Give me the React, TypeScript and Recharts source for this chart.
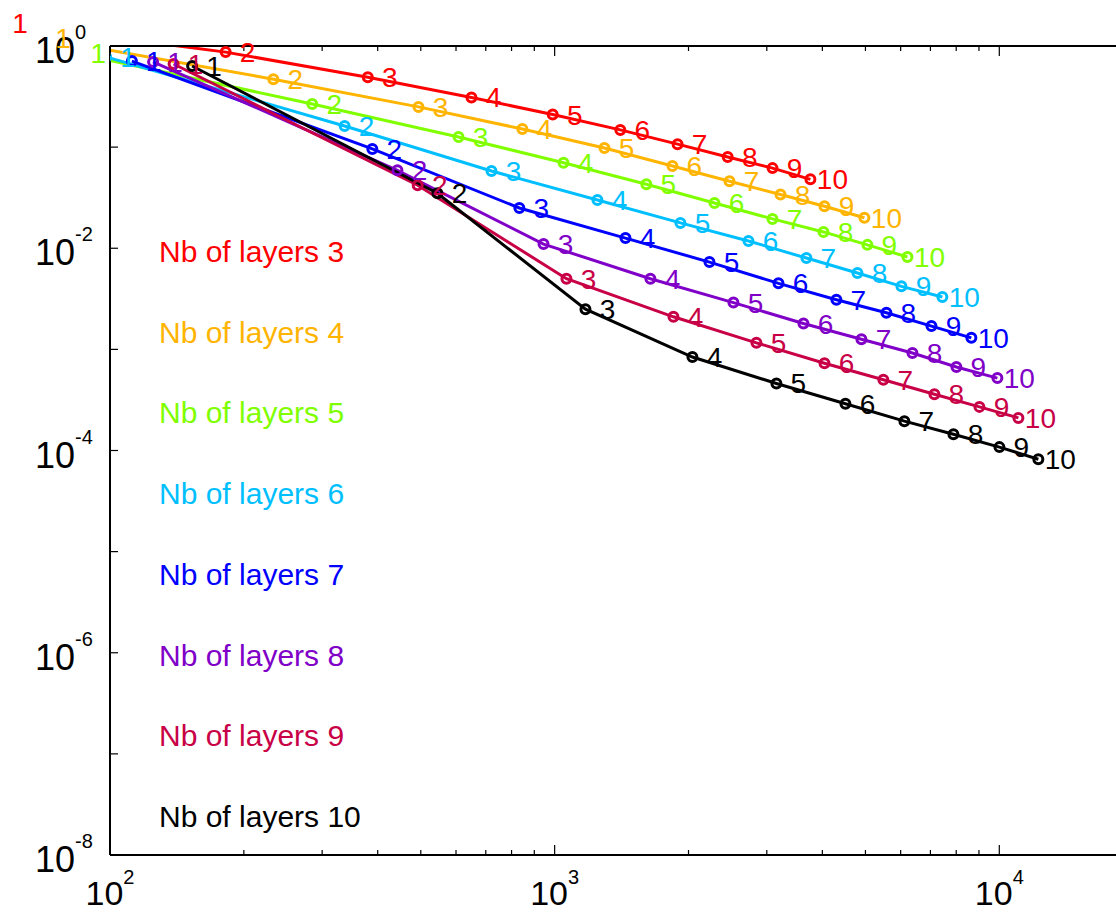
import React from 'react';
import { LineChart, Line, XAxis, YAxis, Legend, LabelList } from 'recharts';

// ---- data ----
const pointLabels = [1, 2, 3, 4, 5, 6, 7, 8, 9, 10];

const seriesNames = [
  'Nb of layers 3',
  'Nb of layers 4',
  'Nb of layers 5',
  'Nb of layers 6',
  'Nb of layers 7',
  'Nb of layers 8',
  'Nb of layers 9',
  'Nb of layers 10',
];

const seriesColors = ['#FF0000', '#FFB400', '#80FF00', '#00BFFF', '#0000FF', '#8000C8', '#C80046', '#000000'];

const layers3X = [56, 182, 380, 650, 990, 1405, 1890, 2450, 3090, 3760];
const layers3Y = [1.7, 0.87, 0.49, 0.31, 0.21, 0.148, 0.107, 0.08, 0.062, 0.048];
const layers4X = [70, 233, 494, 846, 1294, 1840, 2473, 3220, 4044, 4973];
const layers4Y = [1.2, 0.47, 0.25, 0.151, 0.098, 0.065, 0.046, 0.034, 0.026, 0.02];
const layers5X = [84, 285, 608, 1047, 1608, 2288, 3089, 4023, 5051, 6215];
const layers5Y = [0.85, 0.267, 0.126, 0.07, 0.043, 0.028, 0.0195, 0.0145, 0.0108, 0.0082];
const layers6X = [98, 337, 721, 1248, 1918, 2728, 3683, 4797, 6024, 7447];
const layers6Y = [0.78, 0.162, 0.058, 0.03, 0.0178, 0.0118, 0.008, 0.0057, 0.0042, 0.0033];
const layers7X = [112, 389, 833, 1443, 2229, 3187, 4302, 5573, 7037, 8653];
const layers7Y = [0.71, 0.096, 0.025, 0.0126, 0.0073, 0.0045, 0.0031, 0.0023, 0.0017, 0.0013];
const layers8X = [125, 443, 944, 1642, 2524, 3627, 4897, 6377, 8008, 9901];
const layers8Y = [0.695, 0.059, 0.011, 0.005, 0.0029, 0.0018, 0.00126, 0.00092, 0.00067, 0.00052];
const layers9X = [139, 492, 1063, 1850, 2843, 4044, 5486, 7146, 9022, 11040];
const layers9Y = [0.664, 0.042, 0.005, 0.0021, 0.00116, 0.00073, 0.0005, 0.00036, 0.00027, 0.00021];
const layers10X = [153, 545, 1173, 2041, 3153, 4508, 6117, 7886, 10005, 12240];
const layers10Y = [0.634, 0.035, 0.0025, 0.00084, 0.00046, 0.00029, 0.000195, 0.000145, 0.000108, 0.000082];

const xTicks = [100, 200, 300, 400, 500, 600, 700, 800, 900, 1000, 2000, 3000, 4000, 5000, 6000, 7000, 8000, 9000, 10000];
const xMajorTicks = [100, 1000, 10000];
const yTicks = [1e-8, 1e-7, 1e-6, 1e-5, 1e-4, 1e-3, 1e-2, 1e-1, 1];
const yLabelledTicks = [1e-8, 1e-6, 1e-4, 1e-2, 1];

const allX = [layers3X, layers4X, layers5X, layers6X, layers7X, layers8X, layers9X, layers10X];
const allY = [layers3Y, layers4Y, layers5Y, layers6Y, layers7Y, layers8Y, layers9Y, layers10Y];

const series = seriesNames.map((name, s) => ({
  name,
  color: seriesColors[s],
  data: pointLabels.map((n, i) => ({ x: allX[s][i], y: allY[s][i], n })),
}));

const FONT = '"Liberation Sans", Arial, Helvetica, sans-serif';

const isMajor = (v: number) => xMajorTicks.some((m) => Math.abs(m - v) < 1e-6);
const expOf = (v: number) => Math.round(Math.log10(v));

const BottomTick = (props: any) => {
  const { x, y, payload } = props;
  const v = payload.value;
  const major = isMajor(v);
  return (
    <g>
      <line x1={x} x2={x} y1={y} y2={y - (major ? 10 : 5)} stroke="#000" strokeWidth={1.2} />
      {major && (
        <text x={x} y={y + 50} textAnchor="middle" fill="#000" fontFamily={FONT}>
          <tspan fontSize={34}>10</tspan>
          <tspan fontSize={20} dy={-21}>{expOf(v)}</tspan>
        </text>
      )}
    </g>
  );
};

const TopTick = (props: any) => {
  const { x, y, payload } = props;
  const major = isMajor(payload.value);
  return <line x1={x} x2={x} y1={y} y2={y + (major ? 10 : 5)} stroke="#000" strokeWidth={1.2} />;
};

const LeftTick = (props: any) => {
  const { x, y, payload } = props;
  const v = payload.value;
  const labelled = yLabelledTicks.some((m) => Math.abs(Math.log10(m) - Math.log10(v)) < 1e-6);
  return (
    <g>
      <line x1={x} x2={x + 8} y1={y} y2={y} stroke="#000" strokeWidth={1.2} />
      {labelled && (
        <g fontFamily={FONT} fill="#000">
          <text x={x - 35} y={y + 17} textAnchor="end" fontSize={36}>10</text>
          <text x={x - 35} y={y - 7} textAnchor="start" fontSize={20}>{expOf(v)}</text>
        </g>
      )}
    </g>
  );
};

const makeLabel = (color: string) => (props: any) => {
  const { x, y, value } = props;
  return (
    <text x={x + 22} y={y + 10} textAnchor="middle" fill={color} fontSize={28} fontFamily={FONT}>
      {value}
    </text>
  );
};

const LegendContent = () => (
  <svg width={320} height={640} style={{ overflow: 'visible', display: 'block' }}>
    {series.map((s, i) => (
      <text key={s.name} x={9} y={32 + i * 80.7} fill={s.color} fontSize={30} fontFamily={FONT}>
        {s.name}
      </text>
    ))}
  </svg>
);

export default function App() {
  return (
    <div style={{ position: 'absolute', left: 0, top: 0, width: 1116, height: 912, background: '#fff', overflow: 'hidden' }}>
      <LineChart width={1116} height={912} margin={{ top: 45, right: 0, bottom: 0, left: 0 }} style={{ fontFamily: FONT }}>
        <XAxis
          xAxisId={0}
          dataKey="x"
          type="number"
          scale="log"
          domain={[100, 18300]}
          allowDataOverflow
          ticks={xTicks}
          interval={0}
          height={57}
          tickSize={0}
          tickMargin={0}
          tick={<BottomTick />}
          axisLine={{ stroke: '#000', strokeWidth: 2 }}
          tickLine={false}
        />
        <XAxis
          xAxisId="top"
          orientation="top"
          dataKey="x"
          type="number"
          scale="log"
          domain={[100, 18300]}
          allowDataOverflow
          ticks={xTicks}
          interval={0}
          height={1}
          tickSize={0}
          tickMargin={0}
          tick={<TopTick />}
          axisLine={{ stroke: '#000', strokeWidth: 2 }}
          tickLine={false}
        />
        <YAxis
          dataKey="y"
          type="number"
          scale="log"
          domain={[1e-8, 1]}
          allowDataOverflow
          ticks={yTicks}
          interval={0}
          width={110}
          tickSize={0}
          tickMargin={0}
          tick={<LeftTick />}
          axisLine={{ stroke: '#000', strokeWidth: 2 }}
          tickLine={false}
        />
        <Legend
          layout="vertical"
          align="center"
          verticalAlign="middle"
          wrapperStyle={{ left: 150, top: 230, width: 320, height: 640 }}
          content={<LegendContent />}
        />
        {series.map((s) => (
          <Line
            key={s.name}
            xAxisId={0}
            data={s.data}
            dataKey="y"
            name={s.name}
            type="linear"
            stroke={s.color}
            strokeWidth={3}
            dot={{ r: 4.5, stroke: s.color, strokeWidth: 3, fill: 'none' }}
            activeDot={false}
            isAnimationActive={false}
          >
            <LabelList dataKey="n" content={makeLabel(s.color)} />
          </Line>
        ))}
      </LineChart>
    </div>
  );
}
